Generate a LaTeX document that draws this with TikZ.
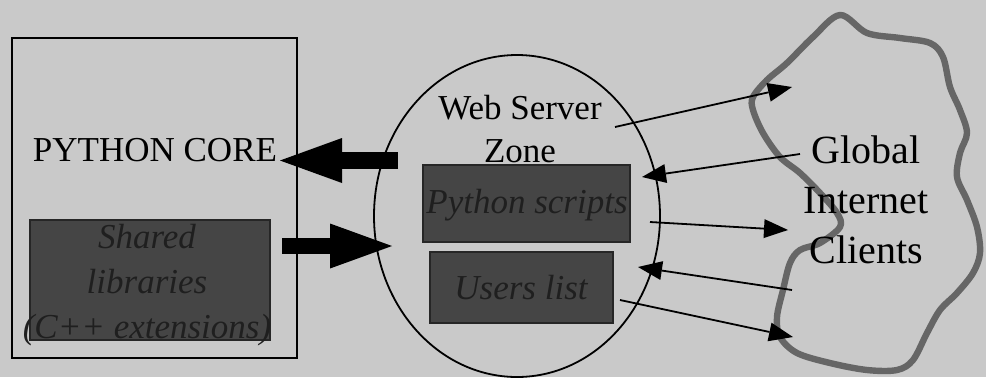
\documentclass[tikz,border=0pt]{standalone}
\usepackage{fontspec}
\setmainfont{Liberation Serif}
\usetikzlibrary{arrows.meta}
\usetikzlibrary{shapes.geometric}

\definecolor{paper}{gray}{0.79}
\definecolor{darkbox}{gray}{0.27}
\definecolor{cloudline}{gray}{0.40}

\begin{document}
\begin{tikzpicture}[x=0.5pt, y=-0.5pt, main/.style = {draw, line width=0.9pt, inner sep=0pt, outer sep=0pt}, dark/.style = {main, fill=darkbox, draw=black!85}, txt/.style = {font=\fontsize{17.5}{21.5}\selectfont, align=center, inner sep=0pt}, darktxt/.style = {txt, text=black!88, font=\itshape\fontsize{17.5}{22.5}\selectfont}, fat/.style = {line width=8.25pt, -{Triangle[length=31pt, width=22.5pt, line width=0pt]}}, msg/.style = {line width=0.9pt, -{Triangle[length=12pt, width=9.5pt, line width=0pt]}}] 
\fill[paper] (0,0) rectangle (986,377);
\useasboundingbox (0,0) rectangle (986,377);
\node[main, minimum width=142.5pt, minimum height=160pt] (core) at (154.5,198) {};
\node[txt] (coretxt) at (155,150) {PYTHON CORE};
\node[dark, minimum width=120pt, minimum height=60pt] (shared) at (150,280) {};
\node[darktxt] (sharedtxt) at (147,285) {Shared\\libraries\\(C++ extensions)};
\node[main, ellipse, minimum width=143pt, minimum height=161pt] (zone) at (517,216) {};
\node[txt] (zonetxt) at (520,129) {Web Server\\Zone};
\node[dark, minimum width=103.5pt, minimum height=38.5pt] (scripts) at (526.5,203.5) {};
\node[darktxt] (scriptstxt) at (527,205) {Python scripts};
\node[dark, minimum width=91.5pt, minimum height=35.5pt] (users) at (521.5,287.5) {};
\node[darktxt] (userstxt) at (521,288) {Users list};
\draw[cloudline, line width=3.2pt, line join=round] plot[smooth cycle, tension=0.55] coordinates {(840,15) (867,33) (900,38) (930,43) (943,57) (950,87) (960,110) (967,133) (960,153) (957,177) (967,200) (977,227) (980,253) (973,273) (957,293) (940,310) (927,333) (913,360) (897,370) (867,370) (830,363) (797,353) (780,337) (777,317) (783,290) (790,263) (800,250) (820,243) (840,227) (837,213) (820,193) (800,173) (780,157) (763,133) (753,110) (753,97) (767,80) (787,63) (813,37)};
\node[txt, font=\fontsize{20}{25}\selectfont] (inet) at (866,200) {Global\\Internet\\Clients};
\coordinate (z1) at (398,160.5);
\coordinate (c1) at (280,160.5);
\coordinate (c2) at (282,246);
\coordinate (z2) at (392,246);
\coordinate (s1) at (615,127);
\coordinate (t1) at (792,87);
\coordinate (s2) at (800,154);
\coordinate (t2) at (642,177);
\coordinate (s3) at (650,222);
\coordinate (t3) at (788,230);
\coordinate (s4) at (792,290);
\coordinate (t4) at (638,267);
\coordinate (s5) at (620,300);
\coordinate (t5) at (793,337);
\draw[fat] (z1) -- (c1);
\draw[fat] (c2) -- (z2);
\draw[msg] (s1) -- (t1);
\draw[msg] (s2) -- (t2);
\draw[msg] (s3) -- (t3);
\draw[msg] (s4) -- (t4);
\draw[msg] (s5) -- (t5);
\end{tikzpicture}
\end{document}
